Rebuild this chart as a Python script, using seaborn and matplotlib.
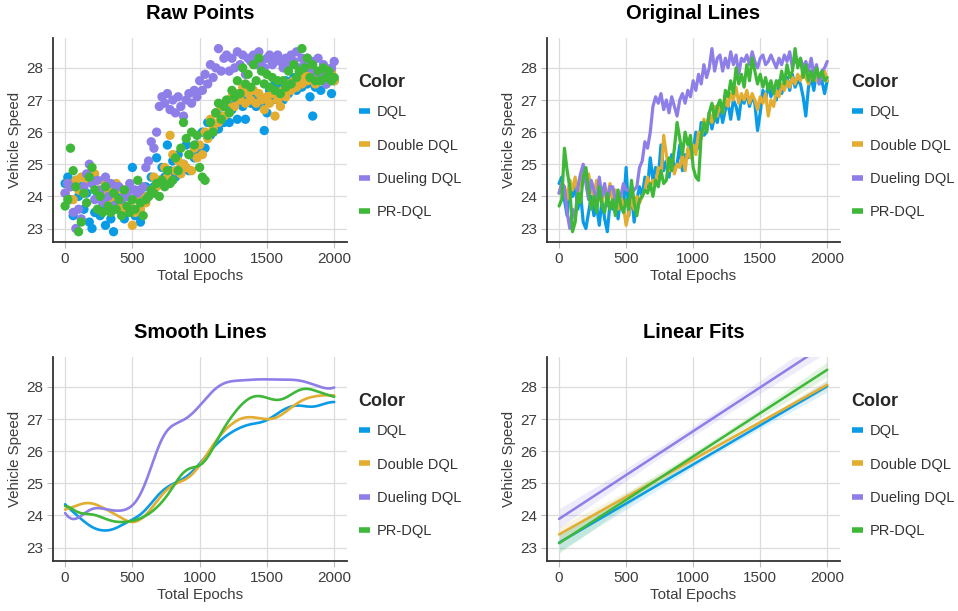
import numpy as np
import pandas as pd
import matplotlib
matplotlib.use("Agg")
import matplotlib.pyplot as plt
from matplotlib.lines import Line2D
import seaborn as sns

# ---------------- data ----------------
epochs = list(range(0, 2001, 20))

dql = [
    24.4, 24.6, 23.9, 23.4, 24.5, 24.0, 24.3, 23.6, 24.1, 23.2,
    23.0, 23.5, 24.0, 23.4, 23.7, 23.1, 23.9, 23.3, 22.9, 23.8,
    23.6, 24.1, 23.3, 24.0, 23.6, 24.9, 23.4, 24.1, 23.2, 23.9,
    24.3, 24.0, 24.6, 24.3, 25.2, 24.5, 24.9, 24.6, 25.6, 24.8,
    25.1, 24.6, 25.3, 24.9, 25.0, 25.6, 24.8, 25.3, 25.2, 25.6,
    25.4, 26.0, 25.5, 26.3, 25.9, 26.0, 26.6, 26.1, 26.5, 26.3,
    26.8, 26.3, 26.7, 26.9, 26.4, 27.0, 26.8, 26.4, 27.1, 26.9,
    27.2, 26.8, 27.1, 26.9, 26.05, 26.6, 27.3, 27.0, 27.5, 27.1,
    27.4, 27.0, 27.6, 27.2, 27.5, 27.7, 27.3, 27.8, 27.4, 27.6,
    27.5, 27.1, 26.5, 27.4, 27.7, 27.3, 27.9, 27.5, 27.6, 27.2,
    27.6,
]

double_dql = [
    24.1, 24.4, 24.3, 23.9, 24.5, 24.2, 24.6, 24.1, 24.5, 24.7,
    24.6, 24.7, 24.2, 24.0, 24.5, 24.1, 23.8, 24.3, 24.0, 24.4,
    23.8, 24.2, 23.6, 24.0, 23.7, 23.1, 23.5, 23.9, 23.6, 24.0,
    23.8, 24.0, 24.2, 24.6, 24.3, 24.5, 24.4, 24.9, 24.6, 25.9,
    25.3, 24.8, 25.1, 24.7, 25.0, 24.9, 25.3, 24.8, 25.5, 25.2,
    25.6, 25.3, 26.0, 25.8, 26.4, 26.1, 26.6, 26.3, 26.8, 26.5,
    26.9, 26.6, 27.1, 26.8, 27.2, 27.0, 27.4, 26.9, 27.2, 27.0,
    27.3, 26.9, 27.2, 27.0, 26.7, 27.1, 26.9, 27.2, 26.5, 27.0,
    26.8, 27.3, 27.1, 27.5, 27.3, 27.6, 27.4, 27.7, 27.5, 27.8,
    27.6, 27.9, 27.7, 27.5, 27.8, 27.9, 27.6, 27.8, 27.7, 27.9,
    27.6,
]

dueling_dql = [
    24.1, 24.4, 24.3, 23.5, 23.0, 23.6, 23.3, 24.3, 24.7, 25.0,
    24.4, 23.9, 24.5, 24.2, 23.8, 24.6, 24.0, 24.4, 23.7, 24.3,
    24.3, 23.9, 24.0, 24.0, 24.4, 24.2, 24.2, 24.1, 24.2, 24.3,
    24.9, 25.1, 25.7, 25.5, 26.0, 26.8, 27.1, 26.9, 27.2, 26.7,
    27.0, 26.6, 27.1, 26.8, 26.5, 27.0, 27.2, 26.9, 27.3, 27.1,
    27.6, 27.3, 27.8, 27.5, 28.1, 27.7, 28.0, 28.6, 27.9, 28.3,
    28.4, 27.9, 28.3, 28.0, 28.5, 28.1, 28.4, 27.8, 28.3, 28.2,
    28.4, 28.1, 28.5, 28.2, 28.0, 28.3, 28.4, 28.1, 28.2, 28.4,
    28.2, 28.0, 28.3, 28.1, 28.4, 28.2, 28.5, 28.0, 28.3, 28.1,
    28.3, 28.0, 28.2, 27.9, 28.3, 27.8, 28.1, 27.5, 27.9, 28.0,
    28.2,
]

pr_dql = [
    23.7, 23.9, 25.5, 24.8, 24.3, 22.9, 23.2, 24.1, 23.8, 24.6,
    24.9, 24.2, 23.6, 24.0, 23.5, 24.3, 23.7, 23.5, 24.1, 23.6,
    23.9, 23.4, 24.2, 23.7, 23.5, 23.9, 23.6, 24.5, 23.8, 23.4,
    23.9, 24.0, 24.2, 24.1, 24.4, 24.0, 24.5, 24.3, 24.8, 24.4,
    24.5, 25.2, 24.8, 25.5, 26.3, 25.8, 25.3, 26.0, 25.6, 25.9,
    24.9, 24.6, 24.5, 25.9, 26.3, 26.0, 26.6, 26.9, 26.4, 26.8,
    27.0, 26.6, 27.3, 27.1, 27.6, 27.2, 28.0, 27.5, 27.8, 27.4,
    28.1, 27.6, 28.3, 27.9, 27.5, 27.8, 27.4, 27.7, 27.3, 27.6,
    27.2, 27.6, 27.4, 27.9, 27.5, 28.1, 27.7, 27.9, 28.6, 28.0,
    28.3, 27.7, 28.1, 27.6, 27.9, 27.6, 28.0, 27.7, 27.9, 27.6,
    27.7,
]

series_names = ["DQL", "Double DQL", "Dueling DQL", "PR-DQL"]
series_values = [dql, double_dql, dueling_dql, pr_dql]
colors = ["#0A9BE6", "#E2AD30", "#8D7EE8", "#3FB83A"]

x_ticks = [0, 500, 1000, 1500, 2000]
y_ticks = [23, 24, 25, 26, 27, 28]
panel_titles = ["Raw Points", "Original Lines", "Smooth Lines", "Linear Fits"]
x_label = "Total Epochs"
y_label = "Vehicle Speed"
legend_title = "Color"

# ---------------- build table ----------------
df = pd.concat(
    [pd.DataFrame({"Epoch": epochs, "Speed": v, "Color": n})
     for n, v in zip(series_names, series_values)],
    ignore_index=True,
)
palette = dict(zip(series_names, colors))


def kernel_smooth(x, y, grid, h):
    x = np.asarray(x, float)
    y = np.asarray(y, float)
    out = []
    for g in grid:
        w = np.exp(-0.5 * ((x - g) / h) ** 2)
        W = w.sum()
        mx = (w * x).sum() / W
        my = (w * y).sum() / W
        b = (w * (x - mx) * (y - my)).sum() / (w * (x - mx) ** 2).sum()
        out.append(my + b * (g - mx))
    return np.array(out)


grid = np.linspace(min(epochs), max(epochs), 300)
sm_df = pd.concat(
    [pd.DataFrame({"Epoch": grid,
                   "Speed": kernel_smooth(epochs, v, grid, 80),
                   "Color": n})
     for n, v in zip(series_names, series_values)],
    ignore_index=True,
)

# ---------------- style ----------------
sns.set_theme(style="white")
plt.rcParams["font.family"] = ["Liberation Sans", "DejaVu Sans"]
text_col = "#3c3c3c"

fig = plt.figure(figsize=(9.58, 6.11), dpi=100)
W, H = 958, 611


def add_ax(l, t, r, b):
    return fig.add_axes([l / W, 1 - b / H, (r - l) / W, (b - t) / H])


axes = [
    add_ax(53, 38, 347, 242),
    add_ax(547, 38, 840, 242),
    add_ax(53, 357, 347, 561),
    add_ax(547, 357, 840, 561),
]

# Raw points
sns.scatterplot(data=df, x="Epoch", y="Speed", hue="Color", palette=palette,
                hue_order=series_names, s=45, linewidth=0, alpha=1.0,
                legend=False, ax=axes[0], zorder=3)
# Original lines
sns.lineplot(data=df, x="Epoch", y="Speed", hue="Color", palette=palette,
             hue_order=series_names, estimator=None, sort=True, lw=2.3,
             legend=False, ax=axes[1], zorder=3)
# Smooth lines
sns.lineplot(data=sm_df, x="Epoch", y="Speed", hue="Color", palette=palette,
             hue_order=series_names, estimator=None, sort=True, lw=1.9,
             legend=False, ax=axes[2], zorder=3)
# Linear fits
for n in series_names:
    sub = df[df["Color"] == n]
    sns.regplot(data=sub, x="Epoch", y="Speed", scatter=False, ci=95,
                seed=1, color=palette[n], line_kws={"lw": 1.8, "zorder": 3},
                ax=axes[3])

for ax, title in zip(axes, panel_titles):
    ax.set_xlim(-90, 2095)
    ax.set_ylim(22.58, 28.93)
    ax.set_xticks(x_ticks)
    ax.set_yticks(y_ticks)
    ax.grid(True, color="#dcdcdc", lw=0.9, zorder=0)
    ax.set_axisbelow(True)
    for s in ["top", "right"]:
        ax.spines[s].set_visible(False)
    for s in ["left", "bottom"]:
        ax.spines[s].set_color("#333333")
        ax.spines[s].set_linewidth(1.3)
    ax.tick_params(axis="both", which="both", length=4, width=0.8,
                   color="#bbbbbb", labelsize=11, labelcolor=text_col,
                   direction="out", pad=3, left=True, bottom=True)
    ax.set_xlabel(x_label, fontsize=10.8, color=text_col, labelpad=2)
    ax.set_ylabel(y_label, fontsize=10.8, color=text_col, labelpad=3)
    ax.set_title(title, fontsize=14.5, fontweight="bold", color="black", pad=14)
    handles = [Line2D([0], [0], color=c, lw=4, solid_capstyle="butt")
               for c in colors]
    leg = ax.legend(handles, series_names, title=legend_title,
                    loc="upper left", bbox_to_anchor=(1.02, 0.85),
                    frameon=False, handlelength=0.8, handletextpad=0.45,
                    labelspacing=1.32, fontsize=10.5, borderaxespad=0,
                    title_fontproperties={"weight": "bold", "size": 13})
    leg._legend_box.align = "left"
    leg._legend_box.sep = 10
    for t in leg.get_texts():
        t.set_color("#333333")

fig.savefig("out.png", dpi=100)
